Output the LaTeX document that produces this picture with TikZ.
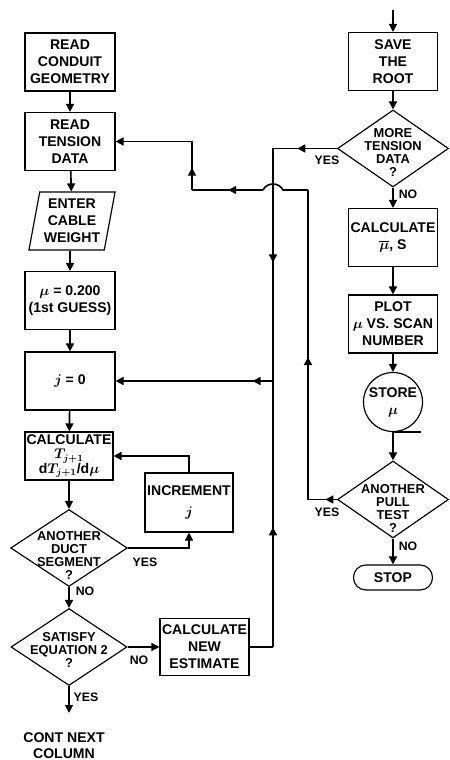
\documentclass[tikz,border=0pt]{standalone}
\usepackage{fontspec}
\setmainfont{Liberation Sans}
\usepackage{tikz}
\usetikzlibrary{shapes.geometric, arrows.meta, decorations.markings}
\newcommand{\dtext}[2][-7.5pt]{\smash{\makebox[0pt]{\raisebox{#1}{\begin{tabular}{@{}c@{}}#2\end{tabular}}}}}

\begin{document}
\begin{tikzpicture}[x=0.03cm, y=-0.03cm,
  box/.style={draw, line width=1pt, rectangle, minimum width=2.7cm, minimum height=1.74cm, inner sep=1pt, align=center, font=\fontsize{12}{14.5}\selectfont\bfseries\boldmath},
  dec/.style={draw, line width=1pt, diamond, minimum width=3.33cm, minimum height=2.31cm, inner sep=0pt, font=\fontsize{11}{11.2}\selectfont\bfseries\boldmath},
  flow/.style={line width=1.4pt, -{Triangle[length=2.4mm, width=2.4mm]}},
  wire/.style={line width=1.4pt},
  midarrow/.style={postaction={decorate}, decoration={markings, mark=at position #1 with {\arrow{Triangle[length=2.4mm, width=2.4mm]}}}},
  lbl/.style={font=\fontsize{10.5}{12}\selectfont\bfseries, inner sep=1pt}]
  \useasboundingbox (0,0) rectangle (449,760);
  % Left column
  \node[box] (geom) at (70,62) {READ\\CONDUIT\\GEOMETRY};
  \node[box] (tension) at (70,141.5) {READ\\TENSION\\DATA};
  \node[box, trapezium, trapezium left angle=78, trapezium right angle=102, trapezium stretches=true, minimum width=2.6cm] (enter) at (72,221) {ENTER\\CABLE\\WEIGHT};
  \node[box] (guess) at (70,300.5) {$\mu$ = 0.200\\(1st GUESS)};
  \node[box] (jzero) at (70,381) {$j$ = 0};
  \node[box, minimum width=2.64cm, minimum height=1.44cm, font=\fontsize{12}{12.5}\selectfont\bfseries\boldmath] (calct) at (69,456) {CALCULATE\\$T_{j+1}$\\d$T_{j+1}$/d$\mu$};
  \node[box, minimum width=2.64cm, minimum height=1.77cm] (incr) at (189,502.5) {INCREMENT\\[4pt]$j$};
  \node[dec, minimum width=3.5cm] (duct) at (69,548) {\dtext[-11pt]{ANOTHER\\DUCT\\SEGMENT\\?}};
  \node[dec, minimum width=3.48cm] (satisfy) at (69,647) {\dtext[-7pt]{SATISFY\\EQUATION 2\\?}};
  \node[box, minimum width=2.67cm, minimum height=1.71cm] (newest) at (204.5,647) {CALCULATE\\NEW\\ESTIMATE};
  \coordinate (contA) at (69,713);
  \node[lbl, align=center, font=\fontsize{12}{13.5}\selectfont\bfseries] (cont) at (64,746) {CONT NEXT\\COLUMN};
  % Right column
  \coordinate (inA) at (393,10);
  \node[box, minimum width=2.67cm] (save) at (393,61.5) {SAVE\\THE\\ROOT};
  \node[dec] (more) at (393,148.5) {\dtext{MORE\\TENSION\\DATA\\?}};
  \node[box, minimum width=2.67cm] (calcs) at (393,237.5) {CALCULATE\\$\overline{\mu}$, S};
  \node[box, minimum width=2.67cm] (plot) at (393,324) {PLOT\\$\mu$ VS. SCAN\\NUMBER};
  \node[draw, line width=1pt, circle, minimum size=1.77cm, inner sep=0pt, align=center, font=\fontsize{12}{14.5}\selectfont\bfseries\boldmath] (store) at (393,402) {STORE\\$\mu$};
  \node[dec] (pull) at (393,499.5) {\dtext[-12pt]{ANOTHER\\PULL\\TEST\\?}};
  \node[draw, line width=1pt, rectangle, rounded corners=0.37cm, minimum width=2.37cm, minimum height=0.75cm, font=\fontsize{12}{14.5}\selectfont\bfseries] (stop) at (393,577.5) {STOP};
  % Tape mark on the circle
  \draw[line width=1.4pt] (store.south) -- ++(28,0);
  % Junctions
  \coordinate (jn) at (273,381);
  \coordinate (loopB) at (308,499.5);
  \coordinate (loopT) at (308,190);
  \coordinate (hopR) at (283,190);
  \coordinate (hopL) at (263,190);
  \coordinate (backB) at (192,190);
  % Connectors, left column
  \draw[flow] (geom) -- (tension);
  \draw[flow] (tension) -- (enter);
  \draw[flow] (enter.south -| guess.north) -- (guess);
  \draw[flow] (guess) -- (jzero);
  \draw[flow] (jzero) -- (calct);
  \draw[flow] (calct) -- (duct);
  \draw[flow] (duct.east) -| (incr.south);
  \draw[flow] (incr.north) |- (calct.east);
  \draw[flow] (duct) -- (satisfy);
  \draw[flow] (satisfy.east) -- (satisfy.east -| newest.west);
  \draw[flow] (satisfy) -- (contA);
  % Connectors, right column
  \draw[flow] (inA) -- (save);
  \draw[flow] (save) -- (more);
  \draw[flow] (more) -- (calcs);
  \draw[flow] (calcs) -- (plot);
  \draw[flow] (plot) -- (store);
  \draw[flow] (store) -- (pull);
  \draw[flow] (pull) -- (stop);
  % Return lines
  \draw[wire, midarrow=0.62] (more.west) -- (more.west -| jn);
  \draw[wire, midarrow=0.49] (more.west -| jn) -- (jn);
  \draw[wire] (newest.east) -- (newest.east -| jn);
  \draw[wire, midarrow=0.45] (newest.east -| jn) -- (jn);
  \draw[flow, midarrow=0.13] (jn) -- (jzero.east);
  \draw[wire, midarrow=0.4] (pull.west) -- (loopB);
  \draw[wire, midarrow=0.46] (loopB) -- (loopT);
  \draw[wire] (loopT) -- (hopR) .. controls +(-4,-8) and +(4,-8) .. (hopL);
  \draw[wire, midarrow=0.49] (hopL) -- (backB);
  \draw[wire, midarrow=0.46] (backB) -- (tension.east -| backB);
  \draw[flow] (tension.east -| backB) -- (tension.east);
  % Labels
  \node[lbl] (yesmore) at (327,160) {YES};
  \node[lbl] (nomore) at (408,194) {NO};
  \node[lbl] (yespull) at (327,512) {YES};
  \node[lbl] (nopull) at (408,546) {NO};
  \node[lbl] (yesduct) at (145,562) {YES};
  \node[lbl] (noduct) at (85,591) {NO};
  \node[lbl] (nosat) at (139,660) {NO};
  \node[lbl] (yessat) at (86,697) {YES};
\end{tikzpicture}
\end{document}
